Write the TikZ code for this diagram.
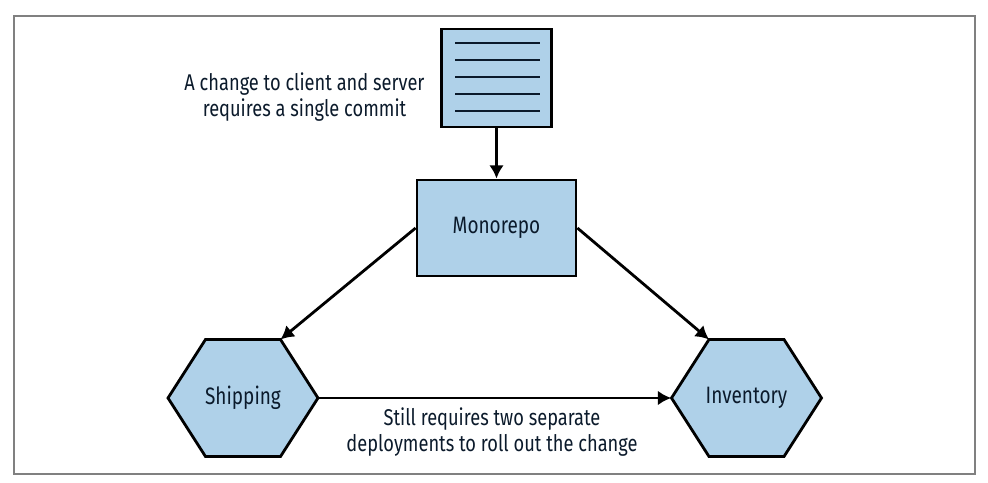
\documentclass[tikz,border=0pt]{standalone}
\usepackage{fontspec}
\setmainfont[FakeStretch=0.8]{Fira Sans}
\definecolor{boxblue}{HTML}{AFD1E9}
\definecolor{inkdark}{HTML}{0B1A2B}
\newcommand{\hexnode}[4]{% name, x, y, text
  \coordinate (#1-ne) at (#2+37.5,#3-58.5);
  \coordinate (#1-nw) at (#2-37.5,#3-58.5);
  \draw[hexline] (#2-75,#3) -- (#1-nw) -- (#1-ne) -- (#2+75,#3) -- (#2+37.5,#3+58.5) -- (#2-37.5,#3+58.5) -- cycle;
  \node[hexbox] (#1) at (#2,#3) {#4};
}
\tikzset{
  hexline/.style={draw=black, line width=2.1pt, fill=boxblue, line join=miter},
  hexbox/.style={minimum width=112.5pt, minimum height=87.75pt, inner sep=0pt, font=\fontsize{17.8}{20}\selectfont, text=inkdark},
  box/.style={draw=black, line width=2.1pt, fill=boxblue, inner sep=0pt, font=\fontsize{17.8}{20}\selectfont, text=inkdark},
  note/.style={align=center, font=\fontsize{17.1}{19.5}\selectfont, text=inkdark, inner sep=0pt},
  link/.style={draw=black, line width=2.1pt, -{Latex[length=10pt,width=11pt]}},
  docline/.style={draw=inkdark, line width=2.1pt}
}
\usetikzlibrary{arrows.meta}
\begin{document}
\begin{tikzpicture}[x=0.75pt,y=-0.75pt]
  \useasboundingbox (0,0) rectangle (988,482);
  \node[draw=black!50, line width=1.5pt, minimum width=721pt, minimum height=343.5pt, inner sep=0pt] (frame) at (494.5,244.5) {};
  % top document
  \node[box, minimum width=82.5pt, minimum height=73.5pt] (doc) at (496.5,78) {};
  \foreach \y in {43,60,77,94,111}
    \draw[docline] (455,\y) -- (540,\y);
  \node[box, minimum width=119.25pt, minimum height=72pt] (mono) at (496.5,228) {Monorepo};
  % services
  \hexnode{shipping}{243}{398}{Shipping}
  \hexnode{inventory}{746.5}{398}{Inventory}
  % labels
  \node[note] (notetop) at (304.5,97.5) {A change to client and server\\requires a single commit};
  \node[note] (notebottom) at (492,432.5) {Still requires two separate\\deployments to roll out the change};
  % arrows
  \draw[link] (doc.south) -- (mono.north);
  \draw[link] (mono.west) -- (shipping-ne);
  \draw[link] (mono.east) -- (inventory-nw);
  \draw[link] (shipping.east) -- (inventory.west);
\end{tikzpicture}
\end{document}
